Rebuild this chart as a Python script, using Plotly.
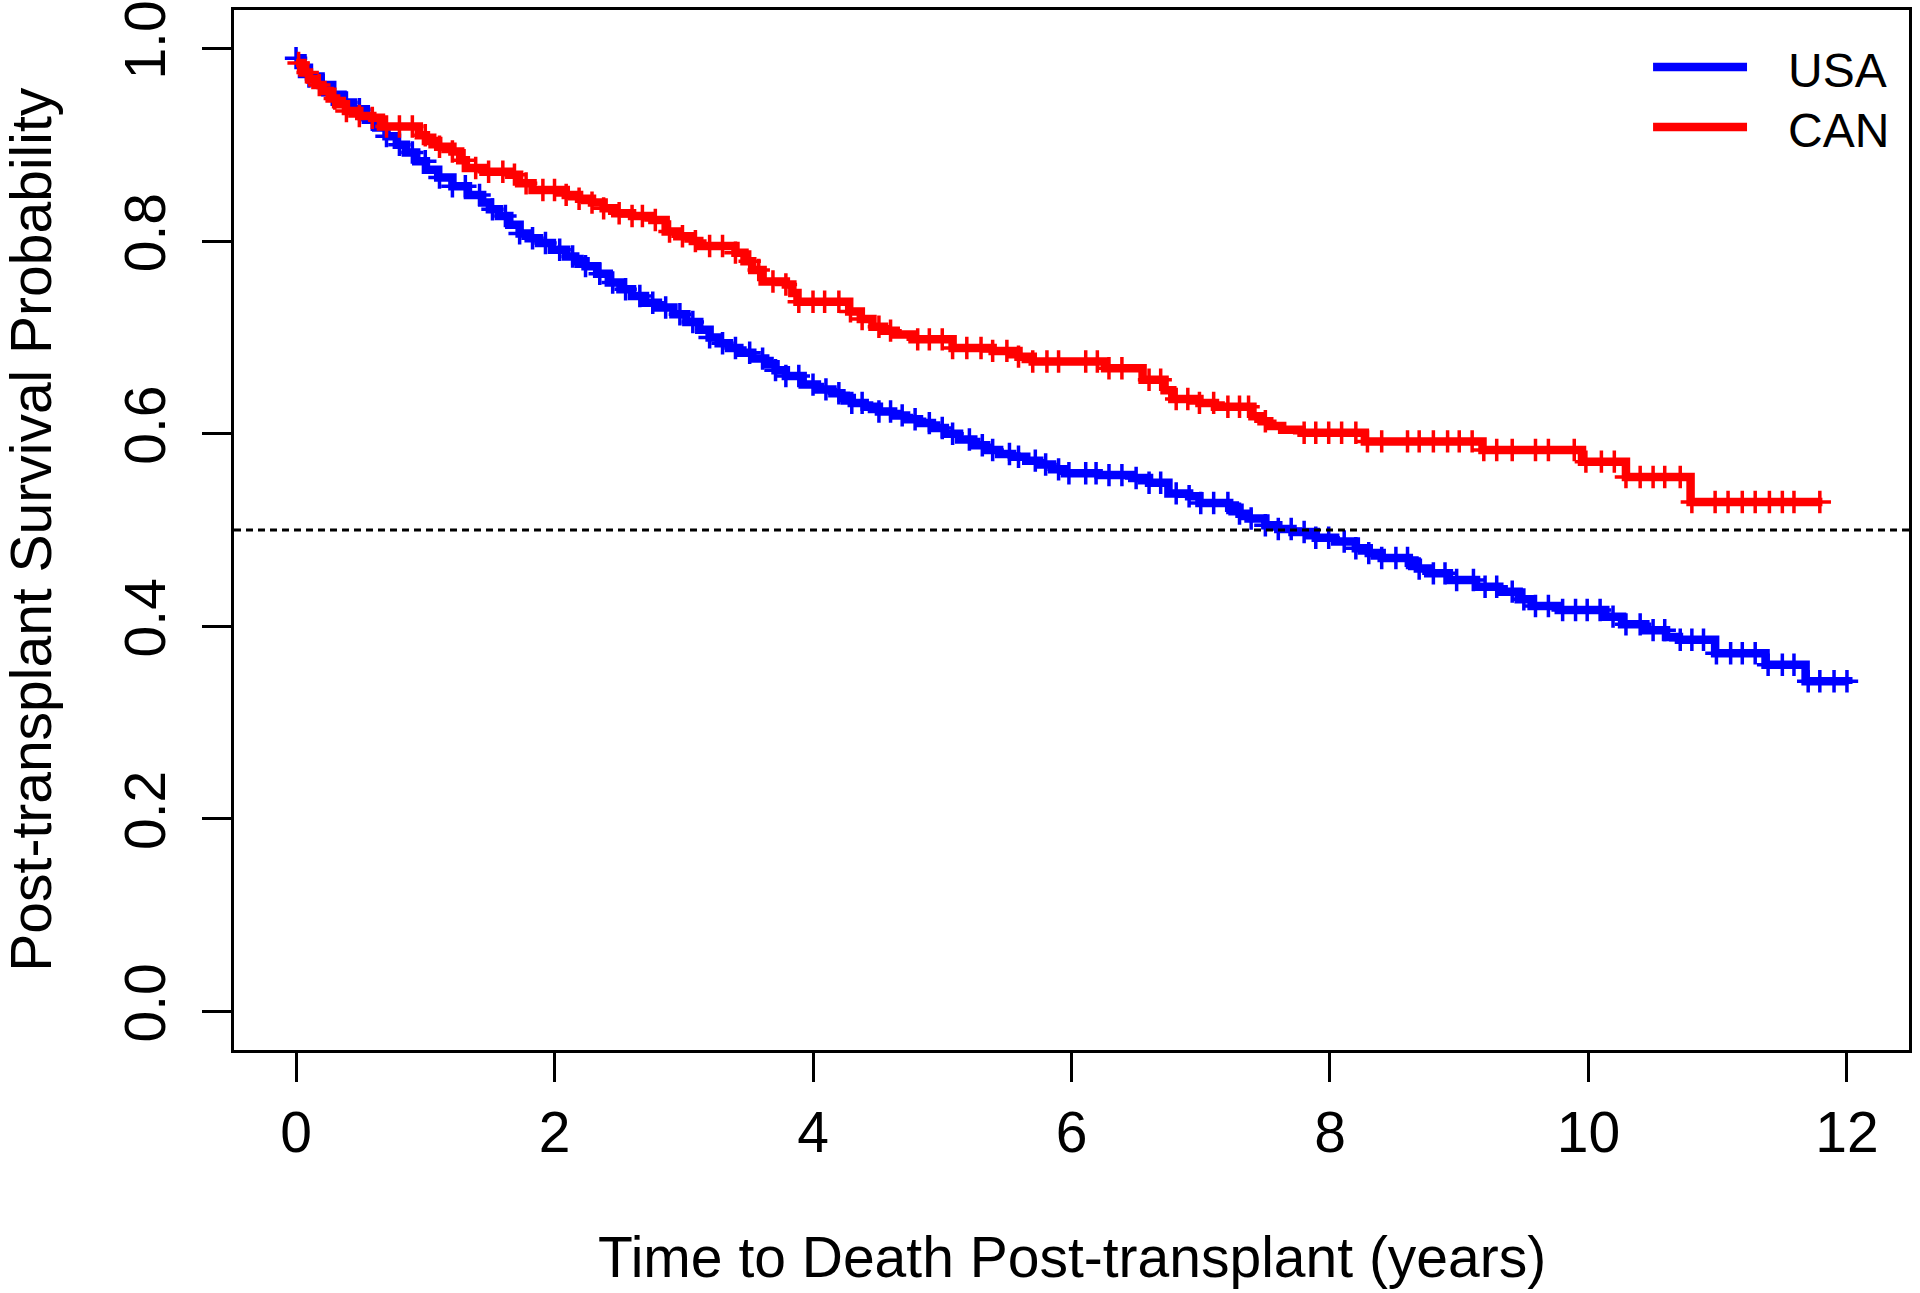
import numpy as np
import plotly.graph_objects as go

# ---- data ----
usa_time = [0.00, 0.05, 0.10, 0.19, 0.28, 0.36, 0.44, 0.54, 0.62, 0.70, 0.78, 0.85, 0.93, 1.005,
            1.10, 1.21, 1.33, 1.44, 1.50, 1.57, 1.65, 1.73, 1.80, 1.88, 1.98, 2.09, 2.16, 2.24,
            2.33, 2.42, 2.51, 2.60, 2.70, 2.80, 2.92, 3.02, 3.12, 3.20, 3.27, 3.35, 3.43, 3.53,
            3.63, 3.71, 3.79, 3.92, 4.03, 4.15, 4.22, 4.30, 4.40, 4.51, 4.62, 4.72, 4.82, 4.92,
            5.02, 5.13, 5.24, 5.34, 5.44, 5.54, 5.65, 5.75, 5.85, 5.95, 6.21, 6.47, 6.60, 6.75,
            6.91, 6.99, 7.22, 7.30, 7.37, 7.50, 7.60, 7.71, 7.89, 8.04, 8.20, 8.30, 8.40, 8.61,
            8.68, 8.76, 8.92, 9.13, 9.31, 9.46, 9.56, 9.77, 10.13, 10.26, 10.44, 10.60, 10.70,
            10.98, 11.37, 11.68, 12.01]
usa_surv = [0.990, 0.980, 0.971, 0.962, 0.952, 0.944, 0.937, 0.926, 0.918, 0.909, 0.900, 0.892,
            0.883, 0.874, 0.866, 0.857, 0.848, 0.840, 0.833, 0.826, 0.817, 0.808, 0.803, 0.798,
            0.791, 0.784, 0.779, 0.774, 0.766, 0.757, 0.750, 0.743, 0.736, 0.731, 0.724, 0.716,
            0.708, 0.700, 0.694, 0.689, 0.684, 0.678, 0.672, 0.666, 0.660, 0.651, 0.646, 0.642,
            0.637, 0.632, 0.628, 0.623, 0.619, 0.615, 0.611, 0.606, 0.600, 0.594, 0.588, 0.583,
            0.579, 0.576, 0.572, 0.568, 0.563, 0.559, 0.557, 0.554, 0.549, 0.538, 0.535, 0.528,
            0.523, 0.517, 0.512, 0.505, 0.501, 0.498, 0.492, 0.488, 0.481, 0.476, 0.471, 0.466,
            0.460, 0.455, 0.448, 0.441, 0.436, 0.428, 0.421, 0.417, 0.410, 0.402, 0.396, 0.389,
            0.386, 0.372, 0.360, 0.343, 0.340]
usa_censor = [0.00, 0.10, 0.21, 0.28, 0.39, 0.49, 0.59, 0.70, 0.80, 0.90, 1.00, 1.11, 1.21, 1.31,
              1.42, 1.52, 1.62, 1.73, 1.83, 1.93, 2.04, 2.14, 2.24, 2.35, 2.45, 2.55, 2.66, 2.76,
              2.86, 2.97, 3.07, 3.20, 3.30, 3.40, 3.51, 3.61, 3.71, 3.79, 3.89, 4.00, 4.10, 4.20,
              4.30, 4.38, 4.51, 4.60, 4.69, 4.79, 4.90, 5.00, 5.08, 5.21, 5.31, 5.39, 5.52, 5.59,
              5.72, 5.80, 5.90, 5.98, 6.11, 6.19, 6.29, 6.39, 6.50, 6.60, 6.69, 6.81, 6.91, 7.00,
              7.10, 7.21, 7.30, 7.39, 7.50, 7.60, 7.70, 7.80, 7.89, 7.99, 8.11, 8.20, 8.30, 8.40,
              8.51, 8.60, 8.69, 8.80, 8.89, 8.98, 9.11, 9.20, 9.29, 9.41, 9.50, 9.59, 9.69, 9.80,
              9.90, 9.99, 10.09, 10.19, 10.29, 10.40, 10.50, 10.59, 10.71, 10.80, 10.89, 10.99,
              11.10, 11.19, 11.29, 11.39, 11.50, 11.59, 11.70, 11.79, 11.90, 12.00]

can_time = [0.00, 0.05, 0.10, 0.15, 0.205, 0.26, 0.31, 0.386, 0.489, 0.59, 0.657, 0.95, 1.005,
            1.10, 1.21, 1.27, 1.314, 1.45, 1.65, 1.726, 1.83, 2.087, 2.19, 2.29, 2.38, 2.47,
            2.60, 2.757, 2.86, 2.95, 3.07, 3.12, 3.40, 3.47, 3.53, 3.61, 3.79, 3.84, 3.88, 4.28,
            4.37, 4.46, 4.55, 4.64, 4.77, 5.08, 5.39, 5.59, 5.70, 6.26, 6.55, 6.72, 6.78, 6.99,
            7.11, 7.40, 7.47, 7.53, 7.63, 7.78, 8.27, 9.18, 9.95, 10.29, 10.79, 11.81]
can_surv = [0.985, 0.975, 0.968, 0.962, 0.956, 0.948, 0.942, 0.935, 0.930, 0.928, 0.919, 0.910,
            0.904, 0.898, 0.893, 0.884, 0.876, 0.872, 0.869, 0.860, 0.853, 0.848, 0.844, 0.840,
            0.834, 0.829, 0.826, 0.822, 0.810, 0.805, 0.800, 0.795, 0.788, 0.779, 0.770, 0.758,
            0.755, 0.746, 0.737, 0.727, 0.719, 0.711, 0.707, 0.703, 0.698, 0.689, 0.686, 0.680,
            0.675, 0.668, 0.656, 0.645, 0.636, 0.632, 0.628, 0.618, 0.613, 0.608, 0.604, 0.601,
            0.592, 0.583, 0.571, 0.555, 0.529, 0.529]
can_censor = [0.02, 0.09, 0.18, 0.30, 0.39, 0.49, 0.59, 0.70, 0.80, 0.90, 1.00, 1.11, 1.21, 1.30,
              1.39, 1.49, 1.60, 1.69, 1.78, 1.91, 2.00, 2.09, 2.19, 2.29, 2.38, 2.50, 2.60, 2.68,
              2.78, 2.89, 2.99, 3.09, 3.20, 3.30, 3.40, 3.51, 3.58, 3.69, 3.79, 3.89, 4.00, 4.09,
              4.20, 4.29, 4.38, 4.51, 4.60, 4.81, 4.90, 5.00, 5.08, 5.19, 5.30, 5.39, 5.50, 5.59,
              5.70, 5.81, 5.90, 6.11, 6.20, 6.29, 6.39, 6.60, 6.69, 6.81, 6.90, 6.99, 7.10, 7.21,
              7.30, 7.37, 7.50, 7.80, 7.89, 7.99, 8.09, 8.20, 8.29, 8.40, 8.60, 8.69, 8.80, 8.91,
              9.00, 9.10, 9.19, 9.29, 9.41, 9.59, 9.69, 9.89, 9.98, 10.10, 10.20, 10.29, 10.40,
              10.50, 10.59, 10.71, 10.80, 10.98, 11.08, 11.19, 11.29, 11.40, 11.50, 11.59, 11.79]

x_ticks = [0, 2, 4, 6, 8, 10, 12]
y_ticks = [0.0, 0.2, 0.4, 0.6, 0.8, 1.0]
median_line = 0.5

series = [
    ("USA", usa_time, usa_surv, usa_censor, "#0000FF"),
    ("CAN", can_time, can_surv, can_censor, "#FF0000"),
]

FONT = "Liberation Sans, Arial, sans-serif"

fig = go.Figure()
for name, t, s, c, col in series:
    t_arr = np.array(t)
    s_arr = np.array(s)
    idx = np.searchsorted(t_arr, np.array(c), side="right") - 1
    idx = np.clip(idx, 0, len(s_arr) - 1)
    fig.add_trace(go.Scatter(x=t, y=s, mode="lines", line=dict(color=col, width=8.5, shape="hv"),
                             name=name, showlegend=False))
    fig.add_trace(go.Scatter(x=c, y=s_arr[idx], mode="markers",
                             marker=dict(symbol="cross-thin", size=16,
                                         line=dict(color=col, width=3.5)),
                             showlegend=False))

fig.add_shape(type="line", xref="paper", yref="y", x0=0, x1=1, y0=median_line, y1=median_line,
              line=dict(color="black", width=3, dash="7px,5px"), layer="above")

# legend (top right, no box)
leg_y = [0.9452, 0.8875]
for (name, _, _, _, col), ly in zip(series, leg_y):
    fig.add_shape(type="line", xref="paper", yref="paper", x0=0.8472, x1=0.9033, y0=ly, y1=ly,
                  line=dict(color=col, width=8.5))
    fig.add_annotation(x=0.9272, y=ly - 0.003, xref="paper", yref="paper", text=name,
                       showarrow=False, xanchor="left", yanchor="middle", borderpad=0,
                       font=dict(family=FONT, size=48, color="black"))

fig.add_annotation(x=0.5, y=-0.1987, xref="paper", yref="paper",
                   text="Time to Death Post-transplant (years)", showarrow=False,
                   xanchor="center", yanchor="middle", borderpad=0,
                   font=dict(family=FONT, size=57, color="black"))
fig.add_annotation(x=-0.1214, y=0.5, xref="paper", yref="paper",
                   text="Post-transplant Survival Probability", showarrow=False, textangle=-90,
                   xanchor="center", yanchor="middle", borderpad=0,
                   font=dict(family=FONT, size=57, color="black"))

axis_common = dict(showline=True, linecolor="black", linewidth=2.5, mirror=True,
                   ticks="outside", ticklen=29, tickwidth=2.5, tickcolor="black",
                   showgrid=False, zeroline=False, ticklabeloverflow="allow",
                   automargin=False,
                   tickfont=dict(family=FONT, size=57, color="black"))

fig.update_xaxes(range=[-0.48, 12.48], tickvals=x_ticks, ticklabelstandoff=2, **axis_common)
fig.update_yaxes(range=[-0.04, 1.04], tickvals=y_ticks, tickformat=".1f", tickangle=-90,
                 ticklabelstandoff=14, **axis_common)

fig.update_layout(width=1920, height=1293, margin=dict(l=234, r=11, t=10, b=243),
                  plot_bgcolor="white", paper_bgcolor="white",
                  font=dict(family=FONT, color="black"))

# remove the page's default 8px body margin so the figure fills the window exactly
fig.write_html("out.html", config={"displayModeBar": False},
               post_script="document.body.style.margin='0';document.body.style.overflow='hidden';")
